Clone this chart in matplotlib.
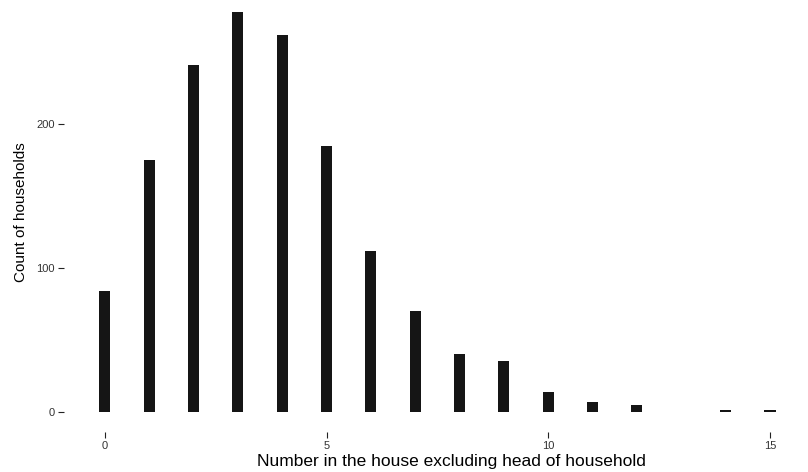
import matplotlib
matplotlib.use("Agg")
import matplotlib.pyplot as plt

household_size = [0, 1, 2, 3, 4, 5, 6, 7, 8, 9, 10, 11, 12, 14, 15, 16]
household_count = [84, 175, 241, 278, 262, 185, 112, 70, 40, 35, 14, 7, 5, 1, 1, 1]
x_ticks = [0, 5, 10, 15]
y_ticks = [0, 100, 200]

plt.rcParams['font.family'] = ['Liberation Sans', 'DejaVu Sans']

fig = plt.figure(figsize=(8.08, 4.72), dpi=100)
# axes in pixel terms: left 64, right 856, top -8.5, bottom 432
ax = fig.add_axes([64/808, (472-432)/472, (856-64)/808, (432+8.5)/472])

ax.bar(household_size, household_count, width=0.25, color='#151515', edgecolor='none')

ax.set_xlim(-0.92, 16.94)
ax.set_ylim(-14, 292)
ax.set_xticks(x_ticks)
ax.set_yticks(y_ticks)
for s in ax.spines.values():
    s.set_visible(False)
ax.tick_params(axis='both', length=4, width=0.8, color='#222222', labelsize=8,
               labelcolor='#333333', pad=2.5)

ax.set_xlabel('Number in the house excluding head of household', fontsize=12.5)
ax.xaxis.set_label_coords(0.489, -0.049)
ax.set_ylabel('Count of households', fontsize=11, labelpad=6)

fig.savefig('out.png', dpi=100)
